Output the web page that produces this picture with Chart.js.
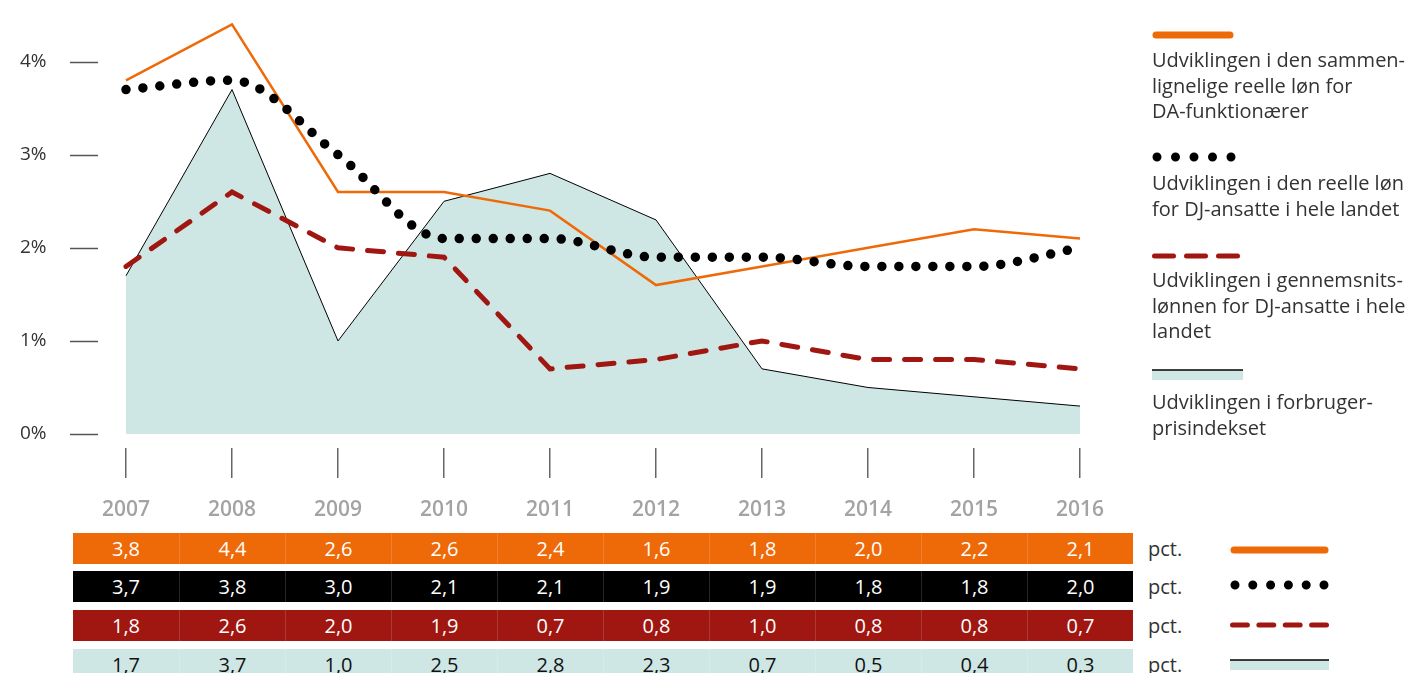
<!DOCTYPE html>
<html>
<head>
<meta charset="utf-8">
<script src="https://cdn.jsdelivr.net/npm/chart.js@4/dist/chart.umd.min.js"></script>
<style>
  body { margin: 0; background: #fff; font-family: "Open Sans", sans-serif; }
  #wrap { position: relative; width: 1412px; height: 673px; overflow: hidden; }
  #myChart { position: absolute; left: 0; top: 0; }
  .legend { position: absolute; left: 1152px; color: #333; font-size: 20px; line-height: 25.5px; }
  .row { position: absolute; left: 73px; width: 1060px; height: 31px; display: flex; }
  .cell { width: 106px; text-align: center; font-size: 20px; line-height: 31px; border-left: 1px solid rgba(255,255,255,0.15); box-sizing: border-box; }
  .cell:first-child { border-left: none; }
  .pct { position: absolute; left: 1148px; font-size: 20px; color: #333; line-height: 31px; }
  .sample { position: absolute; }
  .sample svg { display: block; }
</style>
</head>
<body>
<div id="wrap">
  <canvas id="myChart" width="1412" height="533"></canvas>
  <div id="legend"></div>
  <div id="table"></div>
</div>
<script>
// data
const years = ['2007', '2008', '2009', '2010', '2011', '2012', '2013', '2014', '2015', '2016'];
const daReal = [3.8, 4.4, 2.6, 2.6, 2.4, 1.6, 1.8, 2.0, 2.2, 2.1];
const djReal = [3.7, 3.8, 3.0, 2.1, 2.1, 1.9, 1.9, 1.8, 1.8, 2.0];
const djAverage = [1.8, 2.6, 2.0, 1.9, 0.7, 0.8, 1.0, 0.8, 0.8, 0.7];
const priceIndex = [1.7, 3.7, 1.0, 2.5, 2.8, 2.3, 0.7, 0.5, 0.4, 0.3];
const yTicks = [0, 1, 2, 3, 4];

const seriesNames = [
    ['Udviklingen i den sammen-', 'lignelige reelle løn for', 'DA-funktionærer'],
    ['Udviklingen i den reelle løn', 'for DJ-ansatte i hele landet'],
    ['Udviklingen i gennemsnits-', 'lønnen for DJ-ansatte i hele', 'landet'],
    ['Udviklingen i forbruger-', 'prisindekset']
];

const ORANGE = '#ee6a08';
const BLACK = '#000000';
const RED = '#a01611';
const TEAL = '#cfe7e4';

// y tick marks to the left of the plot
const yTickMarks = {
    id: 'yTickMarks',
    afterDraw(chart) {
        const ctx = chart.ctx;
        const y = chart.scales.y;
        ctx.save();
        ctx.strokeStyle = '#555';
        ctx.lineWidth = 1.5;
        yTicks.forEach(v => {
            const py = Math.round(y.getPixelForValue(v)) + 0.5;
            ctx.beginPath();
            ctx.moveTo(70, py);
            ctx.lineTo(98, py);
            ctx.stroke();
        });
        ctx.restore();
    }
};

const config = {
    type: 'line',
    data: {
        labels: years,
        datasets: [{
            label: seriesNames[1].join(' '),
            data: djReal,
            borderColor: BLACK,
            borderWidth: 9.5,
            borderDash: [0, 17],
            borderCapStyle: 'round',
            borderJoinStyle: 'round',
            cubicInterpolationMode: 'monotone',
            pointRadius: 0,
            fill: false
        }, {
            label: seriesNames[0].join(' '),
            data: daReal,
            borderColor: ORANGE,
            borderWidth: 2.5,
            pointRadius: 0,
            tension: 0,
            fill: false
        }, {
            label: seriesNames[2].join(' '),
            data: djAverage,
            borderColor: RED,
            borderWidth: 5,
            borderDash: [16, 15],
            borderCapStyle: 'round',
            pointRadius: 0,
            tension: 0,
            fill: false
        }, {
            label: seriesNames[3].join(' '),
            data: priceIndex,
            borderColor: BLACK,
            borderWidth: 1,
            backgroundColor: TEAL,
            pointRadius: 0,
            tension: 0,
            fill: 'origin'
        }]
    },
    options: {
        responsive: false,
        animation: false,
        layout: { padding: { top: 2, right: 279, left: 20, bottom: 0 } },
        plugins: {
            legend: { display: false },
            tooltip: { enabled: false }
        },
        scales: {
            x: {
                offset: true,
                border: { display: false },
                grid: { drawOnChartArea: false, drawTicks: true, tickLength: 30, color: '#666', lineWidth: 1.5 },
                ticks: { color: '#a3a3a3', font: { family: 'Open Sans', size: 21, weight: '600' }, padding: 19, maxRotation: 0 },
                afterFit: scale => { scale.height = 85; }
            },
            y: {
                min: -0.15,
                max: 4.54,
                border: { display: false },
                grid: { display: false, drawTicks: false },
                afterBuildTicks: scale => { scale.ticks = yTicks.map(v => ({ value: v })); },
                afterFit: scale => { scale.width = 53; },
                ticks: {
                    color: '#333',
                    font: { family: 'Open Sans', size: 19 },
                    padding: 0,
                    crossAlign: 'far',
                    callback: v => v + '%'
                }
            }
        }
    },
    plugins: [yTickMarks]
};

const myChart = new Chart(document.getElementById('myChart'), config);

// small line samples
function sampleSvg(kind, w, n, g) {
    if (kind === 0) {
        return `<svg width="${w}" height="10"><line x1="4" y1="5" x2="${w - 4}" y2="5" stroke="${ORANGE}" stroke-width="7" stroke-linecap="round"/></svg>`;
    } else if (kind === 1) {
        const gap = (w - 10) / (n - 1);
        return `<svg width="${w}" height="10"><line x1="5" y1="5" x2="${w - 4}" y2="5" stroke="${BLACK}" stroke-width="9" stroke-linecap="round" stroke-dasharray="0 ${gap}"/></svg>`;
    } else if (kind === 2) {
        const period = (w - 5 + g) / n;
        return `<svg width="${w}" height="10"><line x1="2.5" y1="5" x2="${w - 2.5}" y2="5" stroke="${RED}" stroke-width="5" stroke-linecap="round" stroke-dasharray="${period - g} ${g}"/></svg>`;
    }
    return `<svg width="${w}" height="12"><rect x="0" y="1" width="${w}" height="10" fill="${TEAL}"/><line x1="0" y1="1" x2="${w}" y2="1" stroke="#000" stroke-width="1.5"/></svg>`;
}

// legend on the right
const legendSamples = [[30, 82, 0, 0], [152, 84, 5, 0], [251, 88, 3, 13], [369, 91, 0, 0]];
const legendTextTops = [47, 170, 267, 389];
let legendHtml = '';
seriesNames.forEach((lines, i) => {
    const s = legendSamples[i];
    legendHtml += `<div class="sample" style="left:1152px;top:${s[0]}px">${sampleSvg(i, s[1], s[2], s[3])}</div>`;
    legendHtml += `<div class="legend" style="top:${legendTextTops[i]}px">${lines.join('<br>')}</div>`;
});
document.getElementById('legend').innerHTML = legendHtml;

// table below
const rows = [
    { values: daReal, bg: ORANGE, fg: '#fff', sampleTop: 545, n: 0 },
    { values: djReal, bg: BLACK, fg: '#fff', sampleTop: 580, n: 6 },
    { values: djAverage, bg: RED, fg: '#fff', sampleTop: 620, n: 4 },
    { values: priceIndex, bg: TEAL, fg: '#111', sampleTop: 659, n: 0 }
];
const rowTops = [533, 571, 610, 649];
let tableHtml = '';
rows.forEach((row, i) => {
    const cells = row.values.map(v => `<div class="cell" style="color:${row.fg}">${v.toFixed(1).replace('.', ',')}</div>`).join('');
    tableHtml += `<div class="row" style="top:${rowTops[i]}px;background:${row.bg}">${cells}</div>`;
    tableHtml += `<div class="pct" style="top:${rowTops[i]}px">pct.</div>`;
    tableHtml += `<div class="sample" style="left:1230px;top:${row.sampleTop}px">${sampleSvg(i, 99, row.n, 11.5)}</div>`;
});
document.getElementById('table').innerHTML = tableHtml;
</script>
</body>
</html>
